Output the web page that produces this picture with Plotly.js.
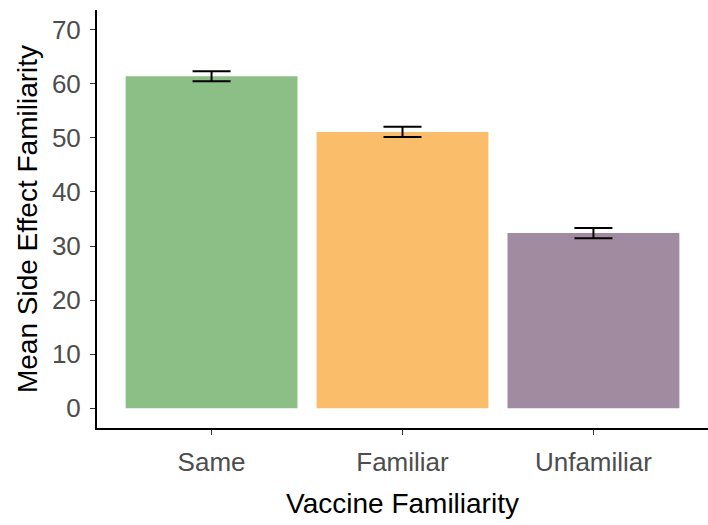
<!DOCTYPE html>
<html>
<head>
<meta charset="utf-8">
<script src="https://cdn.plot.ly/plotly-3.0.1.min.js"></script>
<style>html,body{margin:0;padding:0;background:#fff;}#chart{width:708px;height:525px;}</style>
</head>
<body>
<div id="chart"></div>
<script>
const categories = ["Same", "Familiar", "Unfamiliar"];
const meanValues = [61.4, 51.1, 32.4];
const errorValues = [0.93, 0.95, 0.95];
const barColors = ["#8BBF86", "#FABD69", "#A08BA0"];
const yTickValues = [0, 10, 20, 30, 40, 50, 60, 70];

const trace = {
  type: "bar",
  x: categories,
  y: meanValues,
  width: 0.9,
  marker: {color: barColors, line: {width: 0}},
  error_y: {type: "data", array: errorValues, visible: true, color: "#000000", thickness: 2, width: 19},
  hoverinfo: "none"
};

const layout = {
  width: 708, height: 525,
  margin: {l: 97, r: 0, t: 10, b: 97, pad: 0},
  paper_bgcolor: "#ffffff", plot_bgcolor: "#ffffff",
  showlegend: false,
  bargap: 0.1,
  font: {family: "Liberation Sans, Arial, sans-serif"},
  xaxis: {
    type: "category",
    range: [-0.6, 2.6],
    showline: true, linecolor: "#000000", linewidth: 2,
    showgrid: false, zeroline: false,
    ticks: "outside", ticklen: 5, tickwidth: 1, tickcolor: "#333333",
    tickfont: {size: 26, color: "#4D4D4D"},
    ticklabelstandoff: 5,
    title: {text: "Vaccine Familiarity", font: {size: 28, color: "#000000"}, standoff: 17}
  },
  yaxis: {
    range: [-3.64, 73.63],
    tickvals: yTickValues,
    ticktext: yTickValues.map(String),
    showline: true, linecolor: "#000000", linewidth: 2,
    showgrid: false, zeroline: false,
    ticks: "outside", ticklen: 5, tickwidth: 1, tickcolor: "#333333",
    tickfont: {size: 26, color: "#4D4D4D"},
    ticklabelstandoff: 4,
    title: {text: "Mean Side Effect Familiarity", font: {size: 28, color: "#000000"}, standoff: 6}
  }
};

Plotly.newPlot("chart", [trace], layout, {displayModeBar: false, staticPlot: true});
</script>
</body>
</html>
